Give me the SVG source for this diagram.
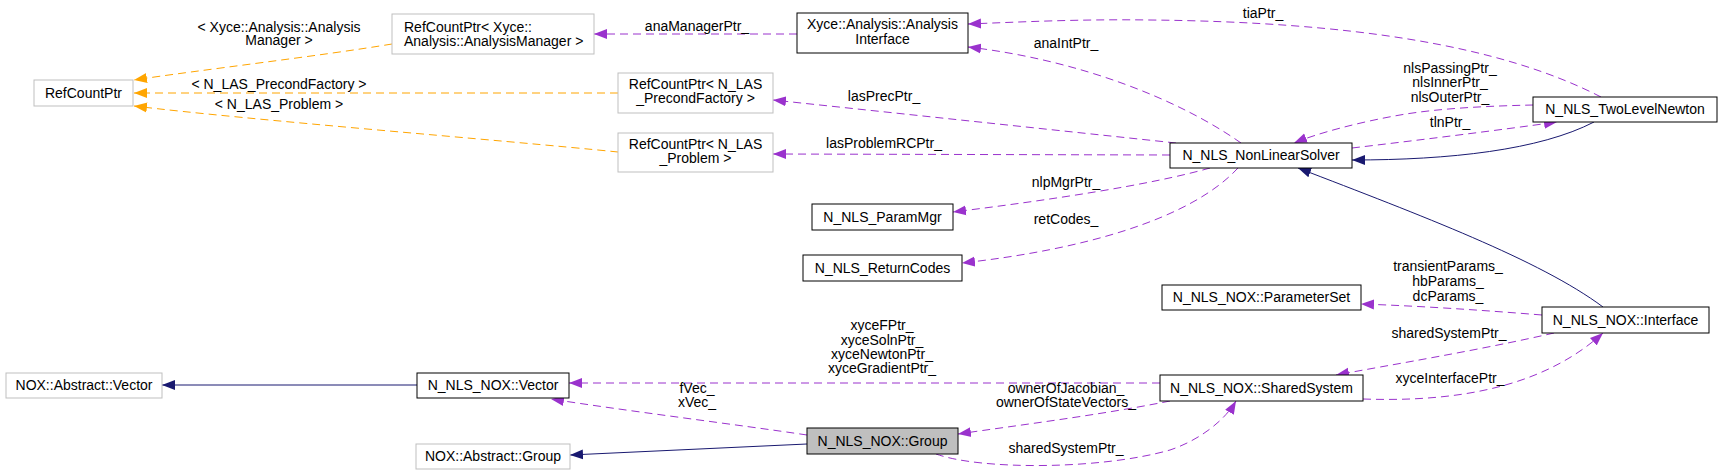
<svg xmlns="http://www.w3.org/2000/svg" width="1723" height="476" viewBox="0 0 1723 476">
<style>
text{font-family:"Liberation Sans",Arial,sans-serif;font-size:14px;fill:#000}
.c{text-anchor:middle}
.bk{fill:#fff;stroke:#000;stroke-width:1}
.gr{fill:#fff;stroke:#bfbfbf;stroke-width:1}
.sel{fill:#bfbfbf;stroke:#000;stroke-width:1}
.u{fill:none;stroke:#9a32cd;stroke-width:1;stroke-dasharray:8,5;marker-end:url(#ap)}
.t{fill:none;stroke:#ffa500;stroke-width:1;stroke-dasharray:8,5;marker-end:url(#ao)}
.i{fill:none;stroke:#191970;stroke-width:1;marker-end:url(#an)}
</style>
<defs>
<marker id="ap" markerUnits="userSpaceOnUse" markerWidth="14" markerHeight="11" refX="13" refY="5.5" orient="auto"><path d="M0,0.5 L13,5.5 L0,10.5 z" fill="#9a32cd"/></marker>
<marker id="ao" markerUnits="userSpaceOnUse" markerWidth="14" markerHeight="11" refX="13" refY="5.5" orient="auto"><path d="M0,0.5 L13,5.5 L0,10.5 z" fill="#ffa500"/></marker>
<marker id="an" markerUnits="userSpaceOnUse" markerWidth="14" markerHeight="11" refX="13" refY="5.5" orient="auto"><path d="M0,0.5 L13,5.5 L0,10.5 z" fill="#191970"/></marker>
</defs>
<rect width="1723" height="476" fill="#fff"/>
<g id="connectors">
<path class="t" d="M392,44 C320,56 200,70 134,80"/>
<path class="t" d="M618,93 L134,93"/>
<path class="t" d="M618,152 C500,140 250,120 134,106"/>
<path class="u" d="M797,34 L594,34"/>
<path class="u" d="M1241,143 C1180,100 1080,60 968,47"/>
<path class="u" d="M1601,97 C1500,45 1350,22 1150,20 C1080,19 1020,22 968,24"/>
<path class="u" d="M1176,143 L773,100"/>
<path class="u" d="M1170,155 L773,154"/>
<path class="u" d="M1533,105 C1490,106 1440,108 1400,115 C1360,122 1318,133 1294,143"/>
<path class="u" d="M1352,148 C1420,140 1500,130 1557,122"/>
<path class="i" d="M1594,122 C1540,150 1450,160 1352,160"/>
<path class="i" d="M1603,307 C1540,260 1420,215 1298,168"/>
<path class="u" d="M1210,168 C1150,185 1050,200 953,212"/>
<path class="u" d="M1238,168 C1190,220 1080,250 962,263"/>
<path class="u" d="M1542,315 C1480,310 1420,306 1361,304"/>
<path class="u" d="M1554,333 C1480,350 1390,365 1336,375"/>
<path class="u" d="M1363,399 C1450,402 1540,390 1603,333"/>
<path class="u" d="M1160,383 L569,383"/>
<path class="u" d="M807,435 C740,425 620,410 551,399"/>
<path class="u" d="M1170,401 C1100,415 1020,425 958,434"/>
<path class="u" d="M936,454 C980,470 1100,470 1170,450 C1200,440 1225,420 1236,401"/>
<path class="i" d="M417,385 L162,385"/>
<path class="i" d="M807,444 L570,455"/>
<text class="c" x="279" y="32">&lt; Xyce::Analysis::Analysis</text>
<text class="c" x="279" y="45">Manager &gt;</text>
<text class="c" x="279" y="89">&lt; N_LAS_PrecondFactory &gt;</text>
<text class="c" x="279" y="109">&lt; N_LAS_Problem &gt;</text>
<text class="c" x="697" y="31">anaManagerPtr_</text>
<text class="c" x="1066" y="48">anaIntPtr_</text>
<text class="c" x="1263" y="18">tiaPtr_</text>
<text class="c" x="884" y="101">lasPrecPtr_</text>
<text class="c" x="884" y="148">lasProblemRCPtr_</text>
<text class="c" x="1450" y="73">nlsPassingPtr_</text>
<text class="c" x="1450" y="87">nlsInnerPtr_</text>
<text class="c" x="1450" y="102">nlsOuterPtr_</text>
<text class="c" x="1450" y="127">tlnPtr_</text>
<text class="c" x="1066" y="187">nlpMgrPtr_</text>
<text class="c" x="1066" y="224">retCodes_</text>
<text class="c" x="1448" y="271">transientParams_</text>
<text class="c" x="1448" y="286">hbParams_</text>
<text class="c" x="1448" y="301">dcParams_</text>
<text class="c" x="1449" y="338">sharedSystemPtr_</text>
<text class="c" x="1450" y="383">xyceInterfacePtr_</text>
<text class="c" x="882" y="330">xyceFPtr_</text>
<text class="c" x="882" y="345">xyceSolnPtr_</text>
<text class="c" x="882" y="359">xyceNewtonPtr_</text>
<text class="c" x="882" y="373">xyceGradientPtr_</text>
<text class="c" x="697" y="393">fVec_</text>
<text class="c" x="697" y="407">xVec_</text>
<text class="c" x="1066" y="393">ownerOfJacobian_</text>
<text class="c" x="1066" y="407">ownerOfStateVectors_</text>
<text class="c" x="1066" y="453">sharedSystemPtr_</text>
</g>
<g id="RefCountPtr"><rect class="gr" x="34" y="80" width="99" height="26"/><text class="c" x="83.5" y="98">RefCountPtr</text></g>
<g id="RCP_AnalysisManager"><rect class="gr" x="392" y="14" width="202" height="40"/><text x="404" y="32">RefCountPtr&lt; Xyce::</text><text x="404" y="46">Analysis::AnalysisManager &gt;</text></g>
<g id="AnalysisInterface"><rect class="bk" x="797" y="13" width="171" height="40"/><text class="c" x="882.5" y="29">Xyce::Analysis::Analysis</text><text class="c" x="882.5" y="44">Interface</text></g>
<g id="RCP_PrecondFactory"><rect class="gr" x="618" y="73" width="155" height="40"/><text class="c" x="695.5" y="89">RefCountPtr&lt; N_LAS</text><text class="c" x="695.5" y="103">_PrecondFactory &gt;</text></g>
<g id="RCP_Problem"><rect class="gr" x="618" y="133" width="155" height="39"/><text class="c" x="695.5" y="149">RefCountPtr&lt; N_LAS</text><text class="c" x="695.5" y="163">_Problem &gt;</text></g>
<g id="NonLinearSolver"><rect class="bk" x="1170" y="143" width="182" height="25"/><text class="c" x="1261" y="160">N_NLS_NonLinearSolver</text></g>
<g id="TwoLevelNewton"><rect class="bk" x="1533" y="97" width="184" height="25"/><text class="c" x="1625" y="114">N_NLS_TwoLevelNewton</text></g>
<g id="ParamMgr"><rect class="bk" x="812" y="204" width="141" height="26"/><text class="c" x="882.5" y="222">N_NLS_ParamMgr</text></g>
<g id="ReturnCodes"><rect class="bk" x="803" y="255" width="159" height="26"/><text class="c" x="882.5" y="273">N_NLS_ReturnCodes</text></g>
<g id="ParameterSet"><rect class="bk" x="1162" y="285" width="199" height="25"/><text class="c" x="1261.5" y="302">N_NLS_NOX::ParameterSet</text></g>
<g id="Interface"><rect class="bk" x="1542" y="307" width="167" height="26"/><text class="c" x="1625.5" y="325">N_NLS_NOX::Interface</text></g>
<g id="SharedSystem"><rect class="bk" x="1160" y="375" width="203" height="26"/><text class="c" x="1261.5" y="393">N_NLS_NOX::SharedSystem</text></g>
<g id="AbstractVector"><rect class="gr" x="6" y="373" width="156" height="25"/><text class="c" x="84" y="390">NOX::Abstract::Vector</text></g>
<g id="Vector"><rect class="bk" x="417" y="373" width="152" height="25"/><text class="c" x="493" y="390">N_NLS_NOX::Vector</text></g>
<g id="AbstractGroup"><rect class="gr" x="416" y="444" width="154" height="25"/><text class="c" x="493" y="461">NOX::Abstract::Group</text></g>
<g id="Group"><rect class="sel" x="807" y="428" width="151" height="26"/><text class="c" x="882.5" y="446">N_NLS_NOX::Group</text></g>
</svg>
